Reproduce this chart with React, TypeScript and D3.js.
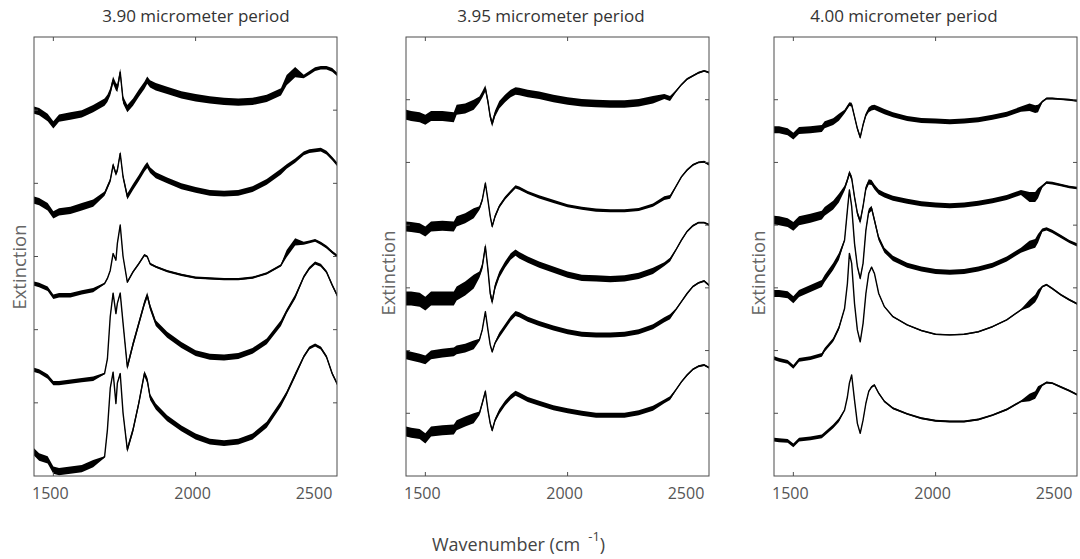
import React from "react";
import * as d3 from "d3";

// ---- data ----
const titles = ["3.90 micrometer period", "3.95 micrometer period", "4.00 micrometer period"];
const xTicks = [1500, 2000, 2500];
const yMaxes = [6, 7, 7];
// noise band breakpoints (wavenumber) shared by every curve
const bandEdges = [1680, 1760, 2310, 2375];

// 3.90 um
const wn1 = [1432, 1450, 1480, 1500, 1520, 1560, 1600, 1640, 1680, 1690, 1700, 1710, 1720, 1725, 1735, 1745, 1760, 1780, 1800, 1820, 1830, 1840, 1860, 1900, 1950, 2000, 2050, 2100, 2150, 2200, 2250, 2300, 2320, 2350, 2380, 2400, 2420, 2440, 2460, 2480, 2500];
const p1a = [5.0, 4.98, 4.9, 4.8, 4.89, 4.92, 4.95, 5.02, 5.11, 5.16, 5.25, 5.41, 5.32, 5.3, 5.52, 5.14, 5.02, 5.11, 5.23, 5.34, 5.41, 5.36, 5.32, 5.27, 5.21, 5.17, 5.14, 5.12, 5.11, 5.12, 5.16, 5.25, 5.41, 5.52, 5.46, 5.51, 5.56, 5.58, 5.58, 5.55, 5.48];
const p1b = [3.77, 3.75, 3.68, 3.57, 3.61, 3.63, 3.68, 3.73, 3.86, 3.95, 4.04, 4.25, 4.13, 4.18, 4.41, 4.09, 3.82, 3.95, 4.07, 4.2, 4.25, 4.18, 4.11, 4.04, 3.96, 3.91, 3.87, 3.86, 3.87, 3.92, 4.02, 4.16, 4.23, 4.31, 4.41, 4.44, 4.45, 4.46, 4.42, 4.34, 4.25];
const p1c = [2.63, 2.61, 2.56, 2.45, 2.47, 2.47, 2.51, 2.54, 2.63, 2.7, 2.81, 3.04, 2.95, 3.18, 3.43, 3.0, 2.65, 2.79, 2.9, 3.02, 3.0, 2.9, 2.86, 2.8, 2.75, 2.71, 2.7, 2.69, 2.69, 2.71, 2.77, 2.88, 3.04, 3.2, 3.18, 3.2, 3.22, 3.18, 3.13, 3.06, 3.0];
const p1d = [1.45, 1.43, 1.36, 1.27, 1.27, 1.29, 1.31, 1.33, 1.4, 1.6, 2.18, 2.5, 2.22, 2.36, 2.5, 2.09, 1.49, 1.8, 2.08, 2.36, 2.47, 2.31, 2.09, 1.93, 1.79, 1.68, 1.63, 1.62, 1.64, 1.71, 1.84, 2.09, 2.25, 2.45, 2.72, 2.84, 2.91, 2.88, 2.79, 2.61, 2.45];
const p1e = [0.33, 0.26, 0.22, 0.08, 0.06, 0.08, 0.1, 0.17, 0.26, 0.63, 1.2, 1.42, 0.99, 1.27, 1.4, 0.86, 0.36, 0.63, 0.99, 1.4, 1.31, 1.08, 0.95, 0.79, 0.65, 0.54, 0.47, 0.45, 0.47, 0.54, 0.7, 0.99, 1.13, 1.38, 1.63, 1.75, 1.79, 1.75, 1.63, 1.4, 1.24];
const bands1 = [
  [0.05, 0.05, 0.05, 0.07, 0.025],
  [0.05, 0.03, 0.04, 0.03, 0.025],
  [0.03, 0.01, 0.015, 0.05, 0.02],
  [0.03, 0.01, 0.04, 0.03, 0.02],
  [0.05, 0.01, 0.04, 0.03, 0.02],
];

// 3.95 um
const wn2 = [1432, 1450, 1480, 1500, 1520, 1560, 1600, 1610, 1640, 1670, 1690, 1700, 1711, 1720, 1728, 1735, 1745, 1760, 1780, 1800, 1817, 1830, 1860, 1900, 1950, 2000, 2050, 2100, 2150, 2200, 2250, 2300, 2340, 2360, 2380, 2400, 2420, 2440, 2460, 2480, 2500];
const p2a = [5.76, 5.74, 5.72, 5.68, 5.74, 5.74, 5.72, 5.84, 5.86, 5.92, 6.0, 6.08, 6.18, 5.97, 5.73, 5.62, 5.78, 5.92, 6.02, 6.1, 6.14, 6.13, 6.1, 6.07, 6.02, 5.98, 5.95, 5.94, 5.93, 5.93, 5.95, 6.0, 6.05, 6.02, 6.13, 6.24, 6.33, 6.38, 6.43, 6.46, 6.43];
const p2b = [3.98, 3.97, 3.95, 3.9, 3.98, 3.99, 3.98, 4.06, 4.11, 4.19, 4.27, 4.4, 4.67, 4.4, 4.14, 3.98, 4.14, 4.3, 4.43, 4.53, 4.61, 4.59, 4.52, 4.45, 4.38, 4.31, 4.27, 4.24, 4.23, 4.23, 4.25, 4.32, 4.43, 4.45, 4.61, 4.77, 4.88, 4.96, 5.0, 5.01, 4.96];
const p2c = [2.83, 2.83, 2.81, 2.75, 2.83, 2.83, 2.83, 2.91, 2.99, 3.1, 3.21, 3.34, 3.66, 3.29, 2.91, 2.78, 3.02, 3.21, 3.37, 3.5, 3.56, 3.52, 3.45, 3.37, 3.29, 3.21, 3.16, 3.15, 3.14, 3.15, 3.19, 3.27, 3.38, 3.45, 3.6, 3.76, 3.9, 3.99, 4.04, 4.04, 4.0];
const p2d = [1.93, 1.91, 1.88, 1.85, 1.93, 1.96, 1.98, 2.01, 2.04, 2.09, 2.17, 2.33, 2.62, 2.33, 2.09, 1.98, 2.12, 2.25, 2.38, 2.51, 2.59, 2.57, 2.5, 2.43, 2.36, 2.3, 2.26, 2.25, 2.25, 2.26, 2.3, 2.38, 2.49, 2.54, 2.65, 2.78, 2.91, 3.02, 3.08, 3.11, 3.03];
const p2e = [0.71, 0.69, 0.67, 0.6, 0.71, 0.73, 0.74, 0.81, 0.87, 0.92, 1.0, 1.16, 1.35, 1.05, 0.84, 0.73, 0.89, 1.03, 1.16, 1.26, 1.32, 1.29, 1.22, 1.16, 1.09, 1.04, 1.0, 0.97, 0.97, 0.97, 1.01, 1.08, 1.19, 1.24, 1.37, 1.5, 1.61, 1.7, 1.75, 1.77, 1.72];
const bands2 = [
  [0.08, 0.05, 0.06, 0.04, 0.015],
  [0.08, 0.03, 0.025, 0.03, 0.015],
  [0.11, 0.05, 0.05, 0.03, 0.015],
  [0.07, 0.02, 0.04, 0.04, 0.015],
  [0.08, 0.03, 0.04, 0.03, 0.015],
];

// 4.00 um
const wn3 = [1432, 1450, 1480, 1500, 1520, 1560, 1600, 1610, 1640, 1660, 1680, 1690, 1697, 1705, 1715, 1725, 1735, 1745, 1755, 1765, 1775, 1785, 1800, 1820, 1850, 1900, 1950, 2000, 2050, 2100, 2150, 2200, 2250, 2300, 2330, 2350, 2360, 2375, 2390, 2410, 2440, 2470, 2500];
const p3a = [5.52, 5.52, 5.49, 5.42, 5.51, 5.52, 5.54, 5.6, 5.65, 5.72, 5.81, 5.88, 5.93, 5.92, 5.73, 5.54, 5.4, 5.6, 5.76, 5.84, 5.87, 5.88, 5.85, 5.81, 5.76, 5.7, 5.67, 5.66, 5.65, 5.66, 5.68, 5.72, 5.77, 5.85, 5.88, 5.85, 5.86, 5.97, 6.02, 6.02, 6.01, 6.0, 5.98];
const p3b = [4.08, 4.07, 4.04, 3.98, 4.07, 4.11, 4.16, 4.22, 4.32, 4.43, 4.59, 4.72, 4.83, 4.75, 4.45, 4.19, 4.06, 4.3, 4.59, 4.69, 4.68, 4.61, 4.53, 4.48, 4.43, 4.38, 4.34, 4.32, 4.31, 4.32, 4.35, 4.39, 4.44, 4.52, 4.45, 4.45, 4.51, 4.62, 4.68, 4.67, 4.64, 4.61, 4.59];
const p3c = [2.91, 2.91, 2.89, 2.81, 2.91, 2.99, 3.07, 3.15, 3.34, 3.5, 3.76, 4.24, 4.56, 4.3, 3.71, 3.34, 3.15, 3.39, 3.92, 4.22, 4.27, 4.08, 3.79, 3.6, 3.47, 3.36, 3.3, 3.26, 3.25, 3.26, 3.3, 3.36, 3.46, 3.6, 3.68, 3.71, 3.79, 3.92, 3.94, 3.9, 3.82, 3.74, 3.68];
const p3d = [1.88, 1.85, 1.82, 1.74, 1.85, 1.88, 1.93, 2.01, 2.17, 2.36, 2.67, 3.07, 3.55, 3.39, 2.75, 2.33, 2.14, 2.43, 2.91, 3.23, 3.33, 3.23, 2.91, 2.7, 2.54, 2.41, 2.32, 2.26, 2.25, 2.26, 2.3, 2.38, 2.49, 2.65, 2.75, 2.83, 2.91, 3.02, 3.05, 2.99, 2.89, 2.81, 2.74];
const p3e = [0.58, 0.57, 0.56, 0.49, 0.58, 0.6, 0.63, 0.67, 0.79, 0.89, 1.05, 1.26, 1.48, 1.61, 1.21, 0.84, 0.68, 0.89, 1.16, 1.35, 1.42, 1.45, 1.32, 1.19, 1.08, 0.99, 0.92, 0.88, 0.87, 0.87, 0.9, 0.97, 1.06, 1.19, 1.25, 1.29, 1.37, 1.45, 1.49, 1.48, 1.42, 1.36, 1.29];
const bands3 = [
  [0.055, 0.03, 0.04, 0.06, 0.015],
  [0.07, 0.04, 0.04, 0.08, 0.02],
  [0.055, 0.02, 0.04, 0.07, 0.025],
  [0.03, 0.01, 0.01, 0.06, 0.015],
  [0.03, 0.01, 0.015, 0.06, 0.015],
];

// ---- layout ----
const W = 1080;
const H = 559;
const panelLeft = [34, 406, 774];
const panelW = 303;
const top = 37;
const bottom = 476;
const titleX = [196, 551, 904];
const ylabelX = [26, 395, 765];
const ylabelY = [267, 273, 273];
const FONT = "'Open Sans', 'Noto Sans', sans-serif";

const panels = [
  { x: wn1, curves: [p1a, p1b, p1c, p1d, p1e], bands: bands1 },
  { x: wn2, curves: [p2a, p2b, p2c, p2d, p2e], bands: bands2 },
  { x: wn3, curves: [p3a, p3b, p3c, p3d, p3e], bands: bands3 },
];

const Panel = ({ i }: { i: number }) => {
  const p = panels[i];
  const left = panelLeft[i];
  const right = left + panelW;
  const x = d3.scaleLinear().domain([1432, 2497]).range([left, right]);
  const y = d3.scaleLinear().domain([0, yMaxes[i]]).range([bottom, top]);

  const yTicks = d3.range(1, yMaxes[i]);
  const inX = xTicks.filter((t) => x(t) < right - 1);

  return (
    <g>
      <clipPath id={`clip${i}`}>
        <rect x={left} y={top} width={panelW} height={bottom - top} />
      </clipPath>
      <g clipPath={`url(#clip${i})`}>
        {p.curves.map((vals, k) => {
          const band = (j: number) => p.bands[k][d3.bisectRight(bandEdges, p.x[j])];
          const area = d3
            .area<number>()
            .x((_, j) => x(p.x[j]))
            .y0((v, j) => y(v - band(j)))
            .y1((v, j) => y(v + band(j)));
          const line = d3
            .line<number>()
            .x((_, j) => x(p.x[j]))
            .y((v) => y(v));
          return (
            <g key={k}>
              <path d={area(vals) || ""} fill="#000" />
              <path d={line(vals) || ""} fill="none" stroke="#000" strokeWidth={1.4} strokeLinejoin="round" />
            </g>
          );
        })}
      </g>

      {/* frame + inward ticks */}
      <rect x={left} y={top} width={panelW} height={bottom - top} fill="none" stroke="#4d4d4d" strokeWidth={1} />
      {inX.map((t) => (
        <g key={t} stroke="#4d4d4d">
          <line x1={x(t)} x2={x(t)} y1={bottom} y2={bottom - 4} />
          <line x1={x(t)} x2={x(t)} y1={top} y2={top + 4} />
        </g>
      ))}
      {yTicks.map((t) => (
        <g key={t} stroke="#4d4d4d">
          <line x1={left} x2={left + 4} y1={y(t)} y2={y(t)} />
          <line x1={right} x2={right - 4} y1={y(t)} y2={y(t)} />
        </g>
      ))}

      {xTicks.map((t) => (
        <text key={t} x={Math.min(x(t) - 3, right - 23)} y={499} textAnchor="middle" fontSize={16} fill="#555" fontFamily={FONT}>
          {t}
        </text>
      ))}

      <text x={titleX[i]} y={22} textAnchor="middle" fontSize={17} fill="#333" fontFamily={FONT}>
        {titles[i]}
      </text>
      <text
        transform={`translate(${ylabelX[i]},${ylabelY[i]}) rotate(-90)`}
        textAnchor="middle"
        fontSize={18.5}
        fill="#666"
        fontFamily={FONT}
      >
        Extinction
      </text>
    </g>
  );
};

export default function App() {
  return (
    <svg width={W} height={H} style={{ position: "absolute", left: 0, top: 0, background: "#fff" }}>
      {panels.map((_, i) => (
        <Panel key={i} i={i} />
      ))}
      <text x={432} y={551} fontSize={18} fill="#444" fontFamily={FONT}>
        Wavenumber (cm
        <tspan dx={8} dy={-10} fontSize={13}>
          -1
        </tspan>
        <tspan dy={10}>)</tspan>
      </text>
    </svg>
  );
}
